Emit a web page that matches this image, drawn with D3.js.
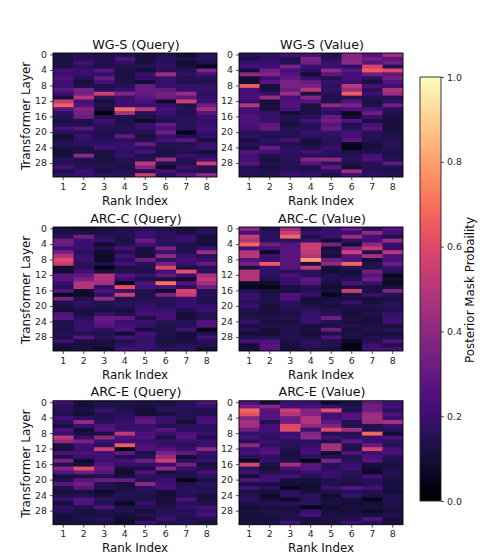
<!DOCTYPE html>
<html>
<head>
<meta charset="utf-8">
<script src="https://cdn.jsdelivr.net/npm/d3@7"></script>
<style>
  html, body { margin: 0; padding: 0; background: #fff; }
  svg { display: block; font-family: "DejaVu Sans", sans-serif; }
  .tick text { fill: #262626; }
</style>
</head>
<body>
<div id="chart"></div>
<script>
// Posterior mask probabilities in percent, one row per transformer layer, one column per rank.
const wgsQuery = [
  [13,16,13,14,11,14,9,16],[13,15,14,24,11,16,12,17],[13,22,14,18,12,16,10,13],[13,17,13,14,14,18,11,6],
  [22,20,26,13,10,16,15,36],[20,20,18,12,20,44,17,22],[24,15,30,12,18,19,15,15],[21,11,22,13,10,19,14,14],
  [20,13,13,15,31,18,19,18],[28,34,17,20,32,30,20,19],[20,34,56,37,30,34,42,18],[12,50,16,20,27,32,29,19],
  [54,23,11,20,23,8,56,20],[67,26,14,20,20,19,13,33],[27,37,12,68,50,23,15,44],[17,34,3,46,15,20,14,26],
  [15,32,14,14,13,17,16,20],[12,14,22,13,7,13,16,19],[14,14,17,14,20,30,16,19],[23,27,15,15,18,23,16,23],
  [15,15,14,15,14,32,5,20],[10,20,14,30,12,19,14,17],[12,17,15,16,14,22,27,11],[15,17,19,19,31,14,14,20],
  [12,12,22,19,17,14,16,20],[10,13,12,17,22,13,14,11],[11,40,12,19,13,14,20,17],[16,14,12,15,15,43,15,22],
  [15,14,13,13,52,14,13,55],[23,15,14,13,38,9,20,16],[13,20,12,14,14,23,15,15],[17,19,17,17,54,17,27,40]
];
const wgsValue = [
  [15,17,22,22,14,38,26,45],[13,17,14,36,16,38,33,27],[19,20,14,32,19,40,27,33],[23,20,35,20,20,17,57,15],
  [11,32,23,17,40,27,65,60],[41,38,26,10,27,22,33,29],[10,20,29,19,14,22,17,33],[9,27,35,30,19,20,12,26],
  [65,12,35,35,17,50,23,20],[22,12,31,50,19,43,16,48],[22,19,43,12,16,65,20,43],[24,43,22,37,14,14,15,15],
  [19,11,25,26,14,26,12,17],[50,12,25,12,40,35,14,33],[22,11,23,12,20,24,23,16],[22,19,9,13,17,7,32,14],
  [25,20,14,16,30,10,20,12],[24,19,14,23,33,26,12,12],[24,29,11,16,27,14,23,11],[22,31,16,15,31,15,27,11],
  [16,16,14,19,19,22,16,13],[17,14,15,17,17,22,15,13],[12,17,23,11,16,26,14,16],[16,16,14,12,16,6,11,16],
  [12,31,17,14,20,5,11,15],[26,22,17,22,17,12,13,14],[22,14,17,16,16,15,23,13],[23,12,16,38,40,16,24,15],
  [27,14,15,27,17,14,16,29],[15,12,15,13,29,10,15,14],[16,14,16,14,17,42,16,14],[15,14,20,19,14,22,17,15]
];
const arccQuery = [
  [13,10,11,14,15,14,11,16],[13,12,13,14,20,16,12,16],[16,33,16,14,19,16,20,11],[33,20,19,13,31,17,19,11],
  [31,20,9,14,23,16,14,11],[20,19,14,23,12,35,14,20],[35,16,9,14,12,19,14,44],[49,19,8,22,11,40,20,15],
  [60,20,8,17,32,17,23,20],[54,16,14,22,16,33,19,31],[9,16,4,12,14,60,12,15],[9,22,11,14,14,23,62,17],
  [27,29,49,26,19,29,20,47],[27,35,49,20,13,12,8,52],[20,49,46,6,24,70,26,44],[17,49,17,62,22,22,17,33],
  [26,8,24,20,14,8,58,16],[5,8,17,55,13,35,54,16],[35,14,40,14,14,16,19,14],[14,17,15,16,16,16,19,14],
  [12,16,13,16,19,16,20,19],[11,12,12,11,20,20,14,20],[26,12,20,14,22,22,10,15],[27,17,31,29,13,22,11,15],
  [13,19,29,20,19,15,15,26],[14,20,26,22,19,14,15,26],[13,20,17,24,11,13,22,4],[15,14,14,9,22,13,11,14],
  [13,26,16,22,19,13,11,22],[22,12,11,14,19,12,12,16],[11,12,12,17,19,13,15,14],[10,12,8,22,20,17,17,10]
];
const arccValue = [
  [40,14,43,14,20,29,16,26],[23,17,54,19,20,20,40,22],[54,17,68,14,19,43,22,14],[49,16,17,19,10,17,22,43],
  [68,33,26,55,35,9,40,19],[23,22,27,55,11,35,54,20],[49,7,27,52,14,57,14,51],[51,20,26,49,11,26,46,24],
  [26,20,27,80,32,24,10,24],[35,65,27,11,40,68,14,31],[12,20,27,51,11,15,14,20],[49,17,16,16,10,11,33,16],
  [49,17,23,17,14,12,26,6],[49,14,20,29,14,15,32,9],[8,8,20,27,12,24,20,7],[6,5,12,15,9,11,12,11],
  [14,11,11,16,11,55,12,36],[19,13,24,20,6,13,19,15],[19,14,24,11,12,12,11,12],[16,13,17,11,13,19,11,15],
  [20,11,16,14,11,13,14,16],[14,11,14,17,14,11,12,14],[12,12,12,19,16,11,13,19],[14,13,14,19,32,12,11,20],
  [19,12,11,20,14,11,11,22],[12,14,13,11,12,14,12,12],[16,10,14,11,32,11,13,16],[10,10,14,10,13,12,11,11],
  [14,14,14,12,24,12,14,14],[22,24,12,17,14,8,14,24],[10,26,12,16,14,4,20,14],[11,26,11,14,12,4,22,22]
];
const arceQuery = [
  [22,11,13,13,13,12,16,24],[16,11,14,13,12,14,16,19],[15,12,19,13,10,16,14,14],[14,10,14,16,10,11,15,14],
  [23,17,14,17,27,20,14,22],[17,42,16,19,29,20,10,24],[11,20,24,19,20,14,17,16],[24,10,26,19,20,27,17,17],
  [20,12,12,52,24,19,24,19],[52,19,40,24,24,12,26,14],[40,35,20,22,20,19,20,20],[12,22,16,65,24,19,16,19],
  [11,20,55,4,24,26,19,40],[24,24,23,29,12,35,29,19],[14,20,22,14,16,44,9,17],[35,8,20,23,32,55,16,19],
  [14,11,26,19,19,20,33,11],[38,62,31,11,12,40,19,14],[26,33,27,8,26,11,14,22],[11,12,14,12,17,16,14,17],
  [14,27,31,31,16,19,4,12],[27,33,14,12,40,22,14,17],[14,27,14,12,17,22,16,14],[12,12,8,13,14,11,16,15],
  [13,14,11,15,14,10,14,11],[20,26,17,13,14,11,24,11],[11,24,14,7,20,11,16,14],[17,14,24,13,14,13,19,22],
  [16,12,13,14,11,15,15,19],[11,12,12,11,14,16,16,23],[11,13,16,9,11,20,14,14],[11,12,13,8,20,14,15,12]
];
const arceValue = [
  [24,9,20,19,8,12,29,20],[32,38,22,22,19,14,33,22],[68,27,55,38,62,14,33,17],[62,26,49,38,22,26,44,24],
  [38,26,32,49,22,26,45,19],[45,14,32,49,29,14,44,46],[45,22,60,40,35,14,14,19],[32,22,60,20,60,44,14,17],
  [19,20,20,38,14,15,68,9],[22,17,22,40,22,17,19,24],[16,20,16,17,14,29,20,17],[40,17,16,19,45,14,31,16],
  [20,24,14,23,45,14,58,22],[22,26,12,22,9,26,20,24],[16,17,12,17,14,14,24,16],[6,19,14,3,35,15,26,14],
  [58,12,46,27,17,20,11,12],[17,11,22,27,16,20,10,13],[20,14,16,20,20,16,7,15],[10,20,22,14,19,14,22,13],
  [26,22,11,11,14,14,16,12],[12,12,11,10,14,13,15,11],[22,16,6,10,20,26,22,12],[12,11,16,11,13,15,14,10],
  [14,8,17,17,9,20,13,14],[17,11,8,15,11,11,5,14],[13,15,16,17,12,10,11,14],[10,12,12,5,10,11,12,12],
  [12,13,12,20,11,11,8,12],[11,12,14,22,12,13,11,14],[11,11,13,11,12,14,24,11],[12,12,22,12,12,20,16,11]
];

const ranks = [1, 2, 3, 4, 5, 6, 7, 8];
const layers = d3.range(32);
const layerTicks = [0, 4, 8, 12, 16, 20, 24, 28];
const barTicks = [0, 0.2, 0.4, 0.6, 0.8, 1];
const panels = [
  { title: "WG-S (Query)", grid: wgsQuery, col: 0, row: 0 },
  { title: "WG-S (Value)", grid: wgsValue, col: 1, row: 0 },
  { title: "ARC-C (Query)", grid: arccQuery, col: 0, row: 1 },
  { title: "ARC-C (Value)", grid: arccValue, col: 1, row: 1 },
  { title: "ARC-E (Query)", grid: arceQuery, col: 0, row: 2 },
  { title: "ARC-E (Value)", grid: arceValue, col: 1, row: 2 }
];

const W = 486, H = 559;
const colLeft = [53, 239], rowTop = [53, 227, 400.7];
const panelW = 164, panelH = 124;
const tickColor = "#262626";

const svg = d3.select("#chart").append("svg").attr("width", W).attr("height", H);
const defs = svg.append("defs");
const color = d3.scaleSequential(d3.interpolateMagma).domain([0, 1]);
const x = d3.scaleBand().domain(ranks).range([0, panelW]);
const y = d3.scaleBand().domain(layers).range([0, panelH]);

function styleAxis(g, size) {
  g.selectAll(".tick line").attr("stroke", tickColor).attr("stroke-width", 0.8);
  g.selectAll(".tick text").attr("font-size", size).attr("font-family", "DejaVu Sans");
  g.select(".domain").remove();
}

// Cells overlap the next row and column by a pixel so no seams show; the clip trims the outer edge.
defs.append("clipPath").attr("id", "panelClip").append("rect")
  .attr("width", panelW).attr("height", panelH);

panels.forEach(p => {
  const g = svg.append("g").attr("transform", `translate(${colLeft[p.col]},${rowTop[p.row]})`);
  const cells = g.append("g").attr("clip-path", "url(#panelClip)");

  p.grid.forEach((row, r) => {
    cells.selectAll(null).data(row).join("rect")
      .attr("x", (d, i) => x(ranks[i]))
      .attr("y", y(layers[r]))
      .attr("width", x.bandwidth() + 1)
      .attr("height", y.bandwidth() + 1)
      .attr("fill", d => color(d / 100));
  });

  g.append("rect").attr("width", panelW).attr("height", panelH)
    .attr("fill", "none").attr("stroke", "#000").attr("stroke-width", 0.9);

  g.append("g").attr("transform", `translate(0,${panelH})`)
    .call(d3.axisBottom(x).tickSize(3).tickPadding(3))
    .call(a => styleAxis(a, 9.4));
  g.append("g")
    .call(d3.axisLeft(y).tickValues(layerTicks).tickSize(3).tickPadding(3))
    .call(a => styleAxis(a, 9.4));

  g.append("text").attr("x", panelW / 2 + 1).attr("y", -4.5)
    .attr("text-anchor", "middle").attr("font-size", 12.7).attr("fill", "#111").text(p.title);
  g.append("text").attr("x", panelW / 2).attr("y", panelH + 27.5)
    .attr("text-anchor", "middle").attr("font-size", 11.9).attr("fill", "#111").text("Rank Index");
  if (p.col === 0) {
    g.append("text")
      .attr("transform", `translate(-23,${panelH / 2 + 1}) rotate(-90)`)
      .attr("text-anchor", "middle").attr("font-size", 11.9).attr("fill", "#111")
      .text("Transformer Layer");
  }
});

// Vertical colour bar on the right
const barX = 420, barY = 77, barW = 21, barH = 424;
const barScale = d3.scaleLinear().domain([0, 1]).range([barH, 0]);
const grad = defs.append("linearGradient")
  .attr("id", "magmaRamp").attr("x1", 0).attr("x2", 0).attr("y1", 1).attr("y2", 0);
grad.selectAll("stop").data(d3.range(0, 1.0001, 0.02)).join("stop")
  .attr("offset", d => d).attr("stop-color", d => color(d));

const bar = svg.append("g").attr("transform", `translate(${barX},${barY})`);
bar.append("rect").attr("width", barW).attr("height", barH)
  .attr("fill", "url(#magmaRamp)").attr("stroke", "#222").attr("stroke-width", 0.9);
bar.append("g").attr("transform", `translate(${barW},0)`)
  .call(d3.axisRight(barScale).tickValues(barTicks).tickFormat(d3.format(".1f")).tickSize(3).tickPadding(3))
  .call(a => styleAxis(a, 9.4));
bar.append("text")
  .attr("transform", `translate(${barW + 33},${barH / 2 + 1}) rotate(-90)`)
  .attr("text-anchor", "middle").attr("font-size", 11.9).attr("fill", "#111")
  .text("Posterior Mask Probaility");
</script>
</body>
</html>
